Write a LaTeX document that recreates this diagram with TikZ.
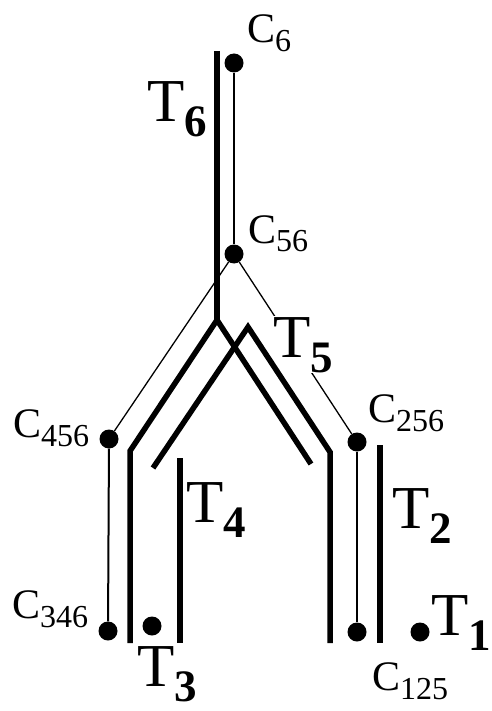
\documentclass[tikz,border=0pt]{standalone}
\usepackage{fontspec}
\setmainfont{Liberation Serif}
\newcommand{\Tlab}[1]{{\fontsize{61}{61}\selectfont T}\raisebox{-15pt}{\fontsize{45}{45}\selectfont\bfseries #1}}
\newcommand{\Clab}[1]{{\fontsize{42}{42}\selectfont C}\raisebox{-9pt}{\fontsize{32}{32}\selectfont #1}}
\begin{document}
\begin{tikzpicture}[x=1pt,y=-1pt,
  tk/.style={line width=5.5pt,line join=miter},
  tn/.style={line width=1.3pt},
  tv/.style={line width=2pt},
  dt/.style={circle,fill,inner sep=0pt,minimum size=19pt},
  lb/.style={anchor=base west,inner sep=0pt}]
  \useasboundingbox (0,0) rectangle (491,711);
  % dots
  \node[dt](c6) at (234,63){};
  \node[dt](c56) at (234,254){};
  \node[dt](c456) at (109,439){};
  \node[dt](c346) at (108,631){};
  \node[dt](c256) at (357,442){};
  \node[dt](c125) at (357,632){};
  \node[dt](d3) at (152,626){};
  \node[dt](d1) at (420,632){};
  % thin links
  \draw[tv](c6)--(c56);
  \draw[tn](c56)--(c456);
  \draw[tn](c56)--(c256);
  \draw[tv](c456)--(c346);
  \draw[tv](c256)--(c125);
  % labels
  \node[lb](lc6) at (247,43){\Clab{6}};
  \node[lb](lc56) at (248,243){\Clab{56}};
  \node[lb](lc456) at (13,437){\Clab{456}};
  \node[lb](lc256) at (368,422){\Clab{256}};
  \node[lb](lc346) at (12,618){\Clab{346}};
  \node[lb](lc125) at (372,690){\Clab{125}};
  \node[lb](lt6) at (147,122){\Tlab{6}};
  \node[lb,fill=white,inner sep=1pt](lt5) at (272,357){\Tlab{5}};
  \node[lb](lt4) at (186,522){\Tlab{4}};
  \node[lb](lt2) at (392,528){\Tlab{2}};
  \node[lb](lt3) at (137,686){\Tlab{3}};
  \node[lb](lt1) at (431,635){\Tlab{1}};
  % trees
  \coordinate (s6) at (217,51);
  \coordinate (j6) at (217,320);
  \coordinate (b6) at (130,451);
  \coordinate (e6) at (130,643);
  \coordinate (r6) at (311,464);
  \coordinate (l5) at (153,468);
  \coordinate (j5) at (248,327);
  \coordinate (b5) at (330,452);
  \coordinate (e5) at (330,643);
  \coordinate (s4) at (180,458);
  \coordinate (e4) at (180,643);
  \coordinate (s2) at (380,445);
  \coordinate (e2) at (380,643);
  \draw[tk](s6)--(j6);
  \draw[tk](e6)--(b6)--(j6)--(r6);
  \draw[tk](l5)--(j5)--(b5)--(e5);
  \draw[tk](s4)--(e4);
  \draw[tk](s2)--(e2);
\end{tikzpicture}
\end{document}
